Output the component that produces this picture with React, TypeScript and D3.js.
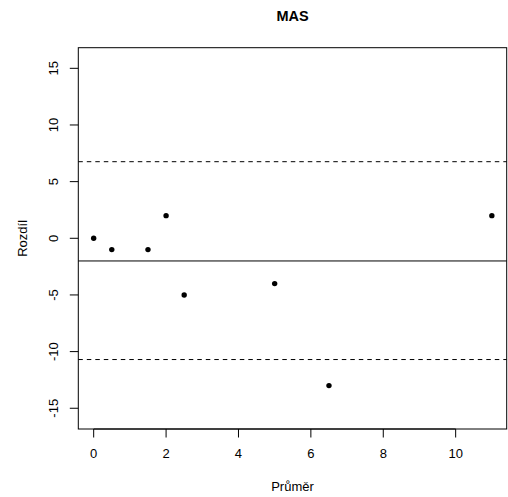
import React from "react";
import * as d3 from "d3";

const title = "MAS";
const xLabel = "Průměr";
const yLabel = "Rozdíl";
const meanX = [0, 0.5, 1.5, 2, 2.5, 5, 6.5, 11];
const diffY = [0, -1, -1, 2, -5, -4, -13, 2];
const meanDiff = -2;
const upperLoA = 6.76;
const lowerLoA = -10.7;
const xTicks = [0, 2, 4, 6, 8, 10];
const yTicks = [-15, -10, -5, 0, 5, 10, 15];

const W = 508;
const H = 497;
const L = 78.3;
const R = 506.7;
const T = 47.7;
const B = 429;
const FONT = "'Liberation Sans', Arial, Helvetica, sans-serif";

export default function App() {
  const x = d3.scaleLinear().domain([-0.425, 11.41]).range([L, R]);
  const y = d3.scaleLinear().domain([-16.83, 16.82]).range([B, T]);
  const tick = 8.5;
  return (
    <svg
      width={W}
      height={H}
      style={{ position: "absolute", left: 0, top: 0, background: "#fff" }}
      fontFamily={FONT}
    >
      <rect x={0} y={0} width={W} height={H} fill="#fff" />
      <text x={(L + R) / 2} y={21} textAnchor="middle" fontWeight="bold" fontSize={14.5} fill="#000">
        {title}
      </text>
      {/* reference lines */}
      <line x1={L} x2={R} y1={y(meanDiff)} y2={y(meanDiff)} stroke="#000" strokeWidth={1} />
      <line x1={L} x2={R} y1={y(upperLoA)} y2={y(upperLoA)} stroke="#000" strokeWidth={1} strokeDasharray="4.5,4" />
      <line x1={L} x2={R} y1={y(lowerLoA)} y2={y(lowerLoA)} stroke="#000" strokeWidth={1} strokeDasharray="4.5,4" />
      {/* points */}
      {meanX.map((v, i) => (
        <circle key={i} cx={x(v)} cy={y(diffY[i])} r={2.7} fill="#000" />
      ))}
      {/* box */}
      <rect x={L} y={T} width={R - L} height={B - T} fill="none" stroke="#000" strokeWidth={1} />
      {/* x axis */}
      <line x1={x(xTicks[0])} x2={x(xTicks[xTicks.length - 1])} y1={B} y2={B} stroke="#000" />
      {xTicks.map((t) => (
        <g key={t}>
          <line x1={x(t)} x2={x(t)} y1={B} y2={B + tick} stroke="#000" />
          <text x={x(t)} y={458} textAnchor="middle" fontSize={13} fill="#000">
            {t}
          </text>
        </g>
      ))}
      <text x={(L + R) / 2} y={491} textAnchor="middle" fontSize={13} fill="#000">
        {xLabel}
      </text>
      {/* y axis */}
      {yTicks.map((t) => (
        <g key={t}>
          <line x1={L - tick} x2={L} y1={y(t)} y2={y(t)} stroke="#000" />
          <text
            transform={`translate(58.3,${y(t)}) rotate(-90)`}
            textAnchor="middle"
            fontSize={13}
            fill="#000"
          >
            {t}
          </text>
        </g>
      ))}
      <text
        transform={`translate(26.7,${(T + B) / 2}) rotate(-90)`}
        textAnchor="middle"
        fontSize={13}
        fill="#000"
      >
        {yLabel}
      </text>
    </svg>
  );
}
